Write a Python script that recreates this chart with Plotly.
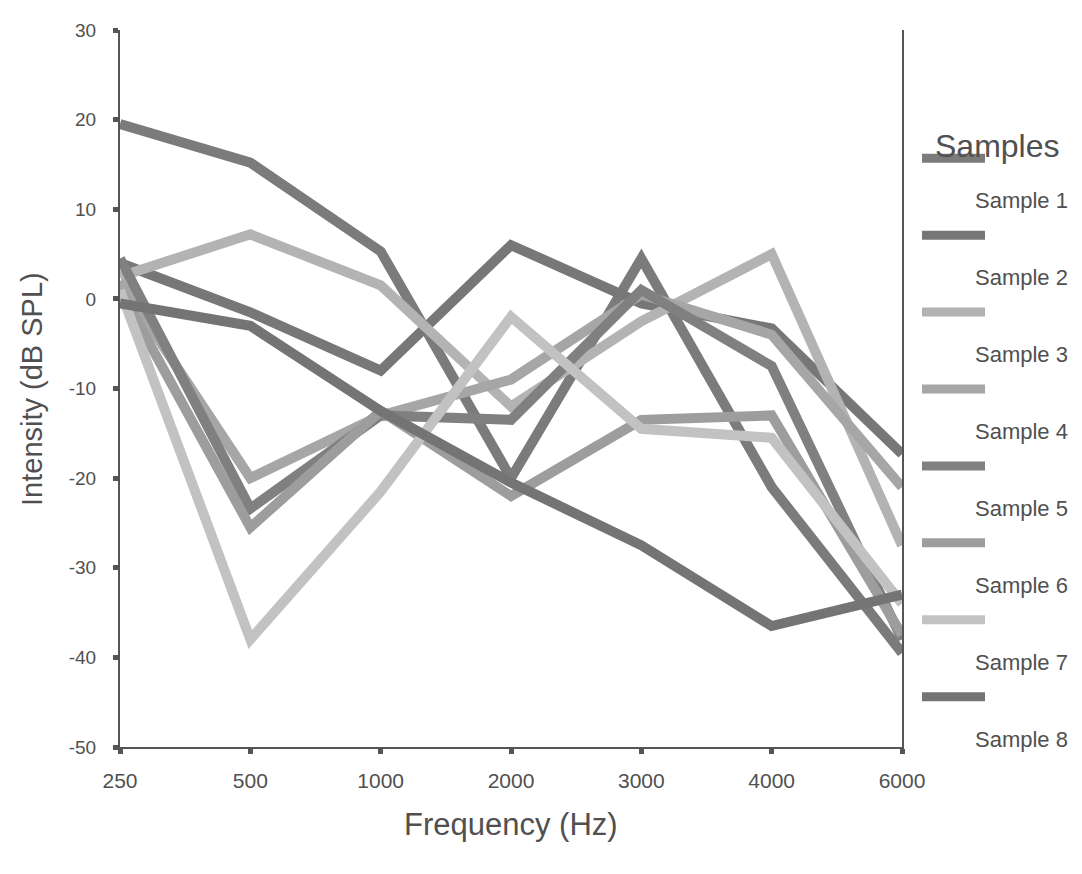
import plotly.graph_objects as go

frequencies = ["250", "500", "1000", "2000", "3000", "4000", "6000"]
sample_names = ["Sample 1", "Sample 2", "Sample 3", "Sample 4",
                "Sample 5", "Sample 6", "Sample 7", "Sample 8"]

sample_1 = [19.5, 15.2, 5.3, -20.0, 4.5, -21.0, -39.5]
sample_2 = [4.0, -1.5, -8.0, 6.0, -0.5, -3.3, -17.3]
sample_3 = [2.5, 7.2, 1.5, -12.0, -2.5, 5.0, -27.5]
sample_4 = [2.0, -20.0, -13.0, -9.0, 0.5, -4.0, -21.0]
sample_5 = [4.5, -23.4, -13.0, -13.5, 1.0, -7.5, -38.0]
sample_6 = [1.0, -25.5, -12.5, -22.0, -13.5, -13.0, -37.5]
sample_7 = [1.0, -38.0, -21.5, -2.0, -14.5, -15.5, -34.0]
sample_8 = [-0.5, -3.0, -12.5, -20.5, -27.5, -36.5, -33.0]

series = [sample_1, sample_2, sample_3, sample_4,
          sample_5, sample_6, sample_7, sample_8]
colors = ["#7b7b7b", "#777777", "#b3b3b3", "#a6a6a6",
          "#808080", "#9d9d9d", "#c2c2c2", "#747474"]

y_ticks = [30, 20, 10, 0, -10, -20, -30, -40, -50]
y_tick_text = [str(v) for v in y_ticks]

# page has an 8px body margin; work in page pixels and convert
OFF = 8
W, H = 1082 - OFF, 874 - OFF
L, R, T, B = 120 - OFF, 902 - OFF, 20 - OFF, 747 - OFF

def px(x):
    return (x - OFF - L) / (R - L)

def py(y):
    return (B - (y - OFF)) / (B - T)

fig = go.Figure()
for name, vals, col in zip(sample_names, series, colors):
    fig.add_trace(go.Scatter(
        x=frequencies, y=vals, mode="lines", name=name,
        line=dict(color=col, width=10), showlegend=False,
    ))

text_col = "#505050"
font_family = "Liberation Sans, Arial, sans-serif"

fig.update_layout(
    width=W, height=H,
    margin=dict(l=L, r=W - R, t=T, b=H - B),
    plot_bgcolor="white", paper_bgcolor="white",
    font=dict(family=font_family, color=text_col, size=16),
    xaxis=dict(
        type="category", range=[0, 6], showgrid=False, zeroline=False,
        showline=True, linecolor="#555555", linewidth=2,
        ticks="outside", ticklen=5, tickwidth=5, tickcolor="#555555",
        tickfont=dict(size=21, color=text_col), ticklabelstandoff=9,
    ),
    yaxis=dict(
        range=[-50, 30], tickvals=y_ticks, ticktext=y_tick_text,
        showgrid=False, zeroline=False,
        showline=True, linecolor="#555555", linewidth=2, mirror=True,
        ticks="outside", ticklen=5, tickwidth=5, tickcolor="#555555",
        tickfont=dict(size=19, color=text_col), ticklabelstandoff=13,
    ),
)

# axis titles
fig.add_annotation(x=px(511), y=py(826), xref="paper", yref="paper",
                   text="Frequency (Hz)", showarrow=False,
                   xanchor="center", yanchor="middle",
                   font=dict(size=31, color=text_col))
fig.add_annotation(x=px(32), y=py(384), xref="paper", yref="paper",
                   text="Intensity (dB SPL)", showarrow=False, textangle=-90,
                   xanchor="center", yanchor="middle",
                   font=dict(size=29, color=text_col))

# custom legend: title, swatch, label below swatch
fig.add_annotation(x=px(998), y=py(138), xref="paper", yref="paper",
                   text="Samples", showarrow=False, xanchor="center", yanchor="middle",
                   font=dict(size=32, color=text_col))
step = 78.0
for i, (name, col) in enumerate(zip(sample_names, colors)):
    sy = 150 + i * step
    fig.add_shape(type="line", xref="paper", yref="paper",
                  x0=px(922), x1=px(985), y0=py(sy), y1=py(sy),
                  line=dict(color=col, width=9))
    fig.add_annotation(x=px(1021), y=py(sy + 43), xref="paper", yref="paper",
                       text=name, showarrow=False, xanchor="center", yanchor="middle",
                       font=dict(size=22, color=text_col))

fig.write_html("out.html")
